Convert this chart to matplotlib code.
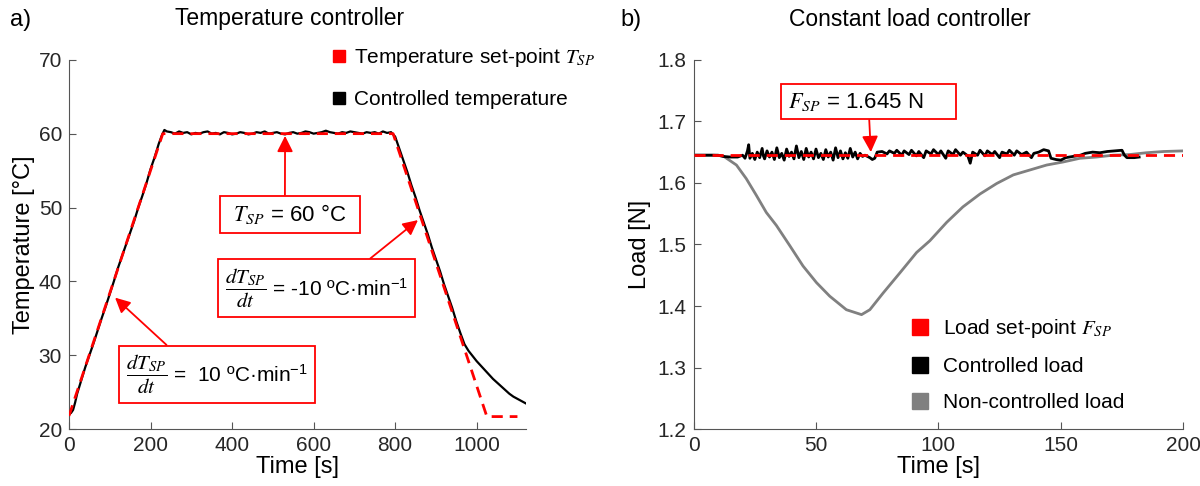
import numpy as np
import matplotlib
matplotlib.use("Agg")
import matplotlib.pyplot as plt
from matplotlib.lines import Line2D

plt.rcParams['font.family'] = ['Liberation Sans', 'DejaVu Sans']
plt.rcParams['mathtext.fontset'] = 'custom'
plt.rcParams['mathtext.rm'] = 'Liberation Sans'
plt.rcParams['mathtext.it'] = 'STIXGeneral:italic'
plt.rcParams['mathtext.bf'] = 'Liberation Sans:bold'

# a) temperature controller
t_sp = [0, 230, 795, 1025, 1100]
temp_sp = [21.8, 60, 60, 21.7, 21.7]

t_ctrl = [0, 5, 10, 15, 20, 30, 40, 50, 60, 70, 80, 90, 100, 110, 120, 130,
          140, 150, 160, 170, 180, 190, 200, 210, 220, 228, 234, 240,
          250, 260, 270, 280, 290, 300, 310, 320, 330, 340, 350, 360, 370,
          380, 390, 400, 410, 420, 430, 440, 450, 460, 470, 480, 490, 500,
          510, 520, 530, 540, 550, 560, 570, 580, 590, 600, 610, 620, 630,
          640, 650, 660, 670, 680, 690, 700, 710, 720, 730, 740, 750, 760,
          770, 780, 790, 800, 810, 820, 830, 840, 850, 860, 870, 880, 890,
          900, 910, 920, 930, 940, 950, 960, 970, 980, 990, 1000, 1010, 1020,
          1030, 1040, 1050, 1060, 1070, 1080, 1090, 1100, 1110, 1120]
temp_ctrl = [22.0, 22.2, 22.6, 23.6, 24.8, 26.6, 28.4, 30.0, 31.6, 33.3, 35.0,
             36.6, 38.3, 40.0, 41.8, 43.4, 45.0, 46.6, 48.2, 50.0, 51.6, 53.3,
             55.2, 56.8, 58.6, 59.8, 60.5, 60.3,
             60.2, 60.0, 60.3, 60.1, 60.2, 59.9, 60.1, 60.0, 60.2, 60.3, 60.0,
             60.1, 59.9, 60.2, 60.1, 59.9, 60.0, 60.2, 60.1, 59.9, 60.0, 60.2,
             60.1, 60.3, 60.0, 60.1, 60.2, 60.0, 59.9, 60.1, 60.2, 60.0, 60.1,
             60.3, 60.2, 60.0, 60.1, 60.2, 60.4, 60.2, 60.1, 60.0, 60.2, 60.1,
             60.3, 60.2, 60.1, 60.0, 60.2, 60.1, 60.2, 60.0, 60.3, 60.1, 60.2,
             59.6, 58.0, 56.4, 54.8, 53.0, 51.4, 49.6, 48.0, 46.4, 44.6,
             43.0, 41.4, 39.6, 38.0, 36.4, 34.6, 33.0, 31.5, 30.6, 29.9, 29.2,
             28.6, 28.0, 27.4, 26.8, 26.3, 25.8, 25.3, 24.8, 24.4, 24.1, 23.8,
             23.5]

# b) constant load controller
t_load_sp = [0, 200]
load_sp = [1.645, 1.645]

t_load_ctrl = [0, 10, 12, 15, 18, 20, 21, 22, 22.5, 23, 24, 25, 26, 27, 28,
               28.5, 29, 30, 31, 32, 33, 34, 35, 36, 37, 38, 39, 40, 41, 42,
               43, 44, 45, 46, 47, 48, 49, 50, 51, 52, 53, 54, 55, 56, 57, 58,
               59, 60, 61, 62, 63, 64, 65, 66, 67, 68, 69, 70, 72, 73, 74, 75,
               77, 79, 80, 82, 83, 85, 86, 88, 89, 91, 92, 94, 95, 97, 98, 100,
               101, 103, 104, 106, 107, 109, 110, 112, 113, 114, 116, 117, 119,
               120, 122, 123, 125, 126, 128, 129, 131, 132, 134, 136, 138, 139,
               141, 143, 145, 146, 148, 150, 152, 155, 158, 160, 163, 166, 169,
               172, 175, 176, 177, 180, 182]
load_ctrl = [1.645, 1.645, 1.643, 1.642, 1.642, 1.645, 1.640, 1.652, 1.662,
             1.640, 1.648, 1.638, 1.650, 1.641, 1.656, 1.644, 1.639, 1.652,
             1.642, 1.650, 1.638, 1.657, 1.641, 1.648, 1.637, 1.655, 1.643,
             1.650, 1.639, 1.660, 1.641, 1.651, 1.638, 1.656, 1.642, 1.650,
             1.639, 1.655, 1.641, 1.648, 1.638, 1.654, 1.642, 1.650, 1.637,
             1.657, 1.641, 1.652, 1.639, 1.649, 1.640, 1.656, 1.642, 1.650,
             1.639, 1.648, 1.643, 1.645, 1.641, 1.638, 1.640, 1.650,
             1.651, 1.647, 1.652, 1.648, 1.653, 1.645, 1.652, 1.646, 1.653,
             1.644, 1.651, 1.641, 1.652, 1.647, 1.654, 1.646, 1.652, 1.640,
             1.652, 1.646, 1.654, 1.645, 1.650, 1.644, 1.632, 1.650, 1.645,
             1.653, 1.644, 1.652, 1.646, 1.651, 1.641, 1.650, 1.647, 1.653,
             1.645, 1.652, 1.646, 1.650, 1.641, 1.648, 1.650, 1.654, 1.652,
             1.640, 1.638, 1.637, 1.641, 1.643, 1.645, 1.648, 1.650, 1.649,
             1.651, 1.652, 1.653, 1.645, 1.641, 1.641, 1.642]

t_load_free = [0, 8, 12, 17.5, 21.5, 25.6, 29.7, 33.8, 39.3, 44.7, 50.2, 55.6,
               62.4, 68.6, 72, 77.4, 84.3, 91.1, 96.5, 103.4, 110, 117, 123.8,
               130.6, 137.4, 144.2, 151, 157.8, 164.6, 171.4, 178, 185, 192,
               200]
load_free = [1.645, 1.645, 1.644, 1.629, 1.607, 1.580, 1.552, 1.531, 1.498,
             1.465, 1.438, 1.416, 1.394, 1.386, 1.394, 1.421, 1.454, 1.487,
             1.506, 1.536, 1.561, 1.582, 1.599, 1.613, 1.621, 1.629, 1.634,
             1.640, 1.642, 1.645, 1.646, 1.649, 1.651, 1.652]

RED = '#ff0000'
GREY = '#808080'
AXC = '#555555'
dash = (0, (4, 2.5))

fig = plt.figure(figsize=(12, 4.86), dpi=100)
ax1 = fig.add_axes([0.0575, 0.117, 0.3805, 0.76])
ax2 = fig.add_axes([0.578, 0.117, 0.408, 0.76])

for ax in (ax1, ax2):
    for s in ('top', 'right'):
        ax.spines[s].set_visible(False)
    for s in ('left', 'bottom'):
        ax.spines[s].set_color(AXC)
    ax.tick_params(direction='in', length=5, color=AXC, labelcolor='#262626',
                   labelsize=15, pad=5)

ax1.plot(t_ctrl, temp_ctrl, color='black', lw=1.6, zorder=2)
ax1.plot(t_sp, temp_sp, color=RED, lw=2, ls=dash, zorder=3)
ax1.set_xlim(0, 1120)
ax1.set_ylim(20, 70)
ax1.set_xticks([0, 200, 400, 600, 800, 1000])
ax1.set_yticks([20, 30, 40, 50, 60, 70])
ax1.set_xlabel('Time [s]', fontsize=17, labelpad=1)
ax1.set_ylabel('Temperature [°C]', fontsize=17, labelpad=3)

box = dict(boxstyle='square,pad=0.3', fc='white', ec=RED, lw=1.3)
box_f = dict(boxstyle='square,pad=0.35', fc='white', ec=RED, lw=1.3)
arw = dict(arrowstyle='-|>,head_length=0.6,head_width=0.3', color=RED, lw=1.3,
           shrinkA=0, shrinkB=0)
ax1.annotate(r' $T_{SP}$ = 60 °C  ', xy=(530, 59.7), xytext=(542, 49.1),
             ha='center', va='center', fontsize=16, bbox=box,
             arrowprops=dict(arw, relpos=(0.46, 1)))
ax1.annotate(r'$\dfrac{dT_{SP}}{dt}$ = -10 ºC·min$^{-1}$', xy=(856, 48.3),
             xytext=(607, 39.1), ha='center', va='center', fontsize=15,
             bbox=box_f, arrowprops=dict(arw, relpos=(0.74, 1)))
ax1.annotate(r'$\dfrac{dT_{SP}}{dt}$ =  10 ºC·min$^{-1}$', xy=(113, 37.8),
             xytext=(363, 27.4), ha='center', va='center', fontsize=15,
             bbox=box_f, arrowprops=dict(arw, relpos=(0.27, 1)))

h1 = [Line2D([], [], ls='none', marker='s', ms=8, color=RED),
      Line2D([], [], ls='none', marker='s', ms=8, color='black')]
fig.legend(h1, [r'Temperature set-point $T_{SP}$', 'Controlled temperature'],
           loc='upper left', bbox_to_anchor=(333 / 1200, 1 - 46 / 486),
           frameon=False, fontsize=15, handlelength=0.6, handletextpad=0.4,
           labelspacing=1.0, borderpad=0, borderaxespad=0)

ax2.plot(t_load_free, load_free, color=GREY, lw=2, zorder=1)
ax2.plot(t_load_ctrl, load_ctrl, color='black', lw=2, zorder=2)
ax2.plot(t_load_sp, load_sp, color=RED, lw=2, ls=dash, zorder=3)
ax2.set_xlim(0, 200)
ax2.set_ylim(1.2, 1.8)
ax2.set_xticks([0, 50, 100, 150, 200])
ax2.set_yticks([1.2, 1.3, 1.4, 1.5, 1.6, 1.7, 1.8])
ax2.set_xlabel('Time [s]', fontsize=17, labelpad=1)
ax2.set_ylabel('Load [N]', fontsize=17, labelpad=5)
ax2.annotate(r'$F_{SP}$ = 1.645 N     ', xy=(72.4, 1.650), xytext=(71.6, 1.732),
             ha='center', va='center', fontsize=16, bbox=box,
             arrowprops=dict(arw, relpos=(0.5, 0)))

h2 = [Line2D([], [], ls='none', marker='s', ms=12, color=RED),
      Line2D([], [], ls='none', marker='s', ms=12, color='black'),
      Line2D([], [], ls='none', marker='s', ms=12, color=GREY)]
fig.legend(h2, [r'Load set-point $F_{SP}$', 'Controlled load',
                'Non-controlled load'],
           loc='upper left', bbox_to_anchor=(911 / 1200, 1 - 317 / 486),
           frameon=False, fontsize=15, handlelength=0.85, handletextpad=0.7,
           labelspacing=0.82, borderpad=0, borderaxespad=0)

fig.text(10 / 1200, 1 - 20 / 486, 'a)', fontsize=17, va='center')
fig.text(620 / 1200, 1 - 20 / 486, 'b)', fontsize=17, va='center')
fig.text(290 / 1200, 1 - 19 / 486, 'Temperature controller', fontsize=16.5,
         ha='center', va='center')
fig.text(910 / 1200, 1 - 19 / 486, 'Constant load controller', fontsize=16.5,
         ha='center', va='center')

fig.savefig('out.png', dpi=100)
